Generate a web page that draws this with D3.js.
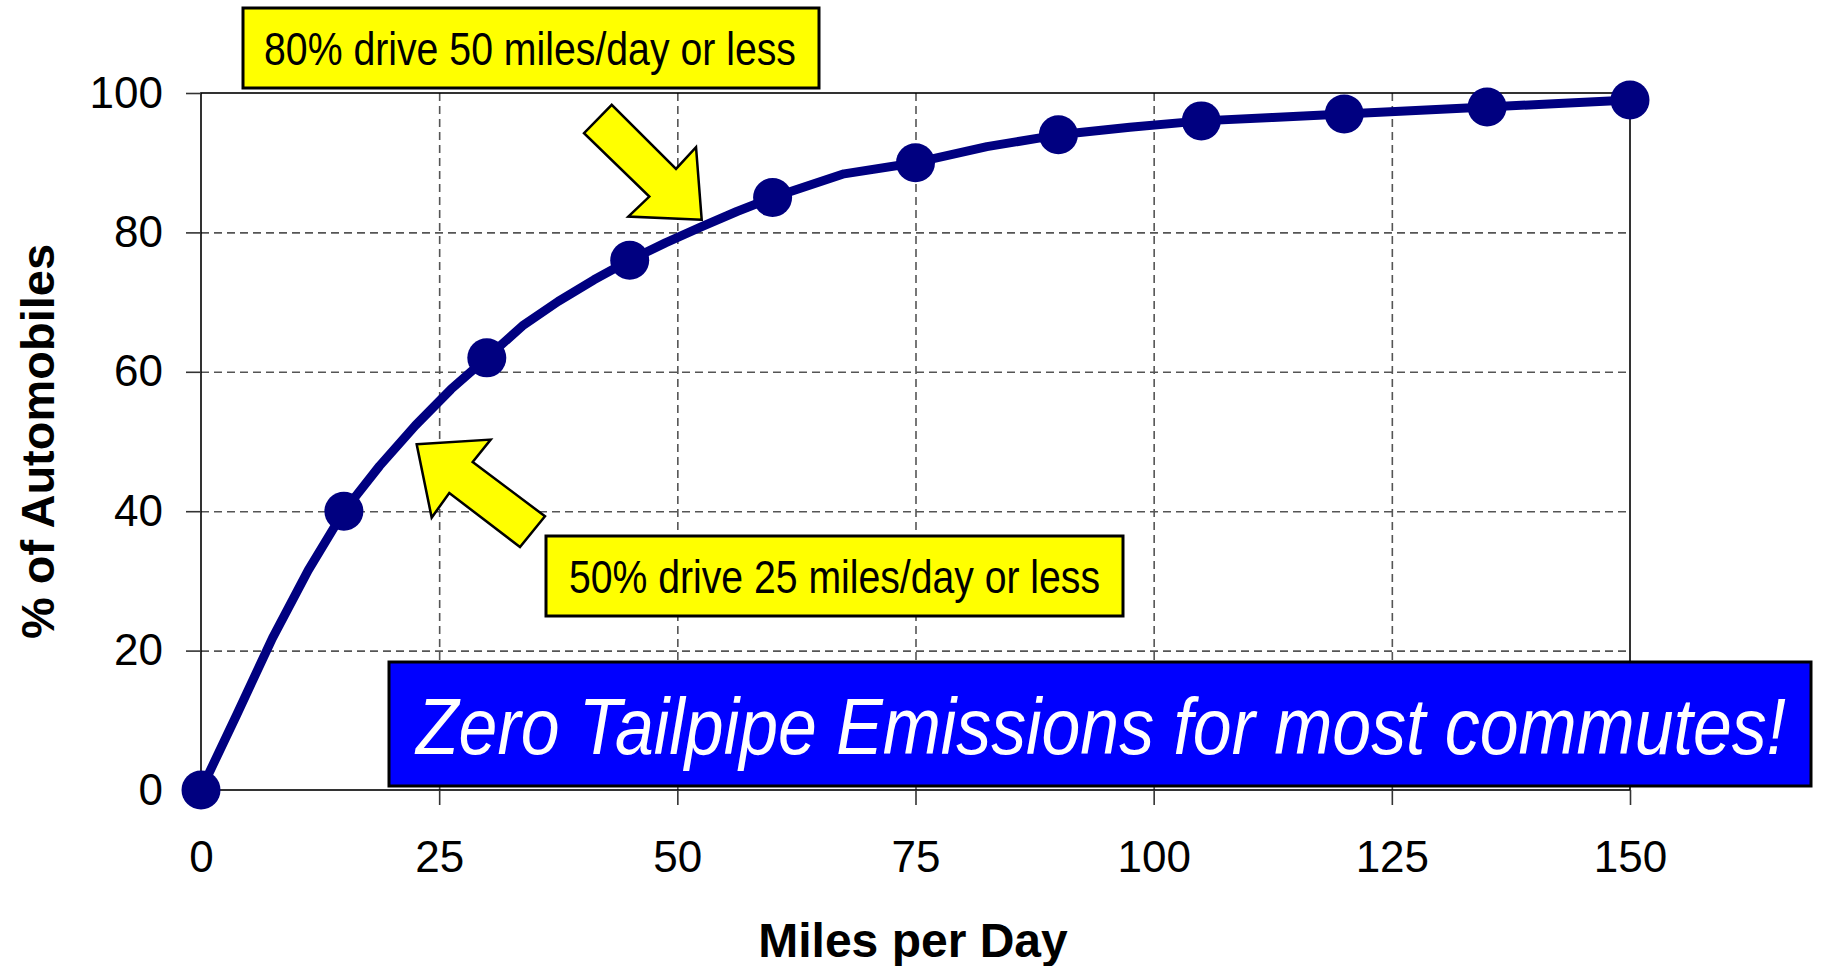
<!DOCTYPE html>
<html>
<head>
<meta charset="utf-8">
<script src="https://cdn.jsdelivr.net/npm/d3@7"></script>
<style>
  html, body { margin: 0; padding: 0; background: #fff; }
  svg { display: block; }
</style>
</head>
<body>
<div id="chart"></div>
<script>
// cumulative share of cars by daily mileage
var markerMiles = [0, 15, 30, 45, 60, 75, 90, 105, 120, 135, 150];
var markerPct = [0, 40, 62, 76, 85, 90, 94, 96, 97, 98, 99];

// the drawn curve has more vertices than the markers
var curveMiles = [0, 3.75, 7.5, 11.25, 15, 18.75, 22.5, 26.25, 30, 33.75, 37.5, 41.25, 45, 48.75, 52.5, 56.25, 60, 67.5, 75, 82.5, 90, 97.5, 105, 112.5, 120, 127.5, 135, 142.5, 150];
var curvePct = [0, 10.8, 21.8, 31.5, 40, 46.5, 52.3, 57.5, 62, 66.6, 70.1, 73.2, 76, 78.5, 80.8, 83, 85, 88.4, 90, 92.3, 94, 95.1, 96, 96.5, 97, 97.5, 98, 98.5, 99];

var xTicks = [0, 25, 50, 75, 100, 125, 150];
var yTicks = [0, 20, 40, 60, 80, 100];

var xTitle = "Miles per Day";
var yTitle = "% of Automobiles";
var note80 = "80% drive 50 miles/day or less";
var note50 = "50% drive 25 miles/day or less";
var banner = "Zero Tailpipe Emissions for most commutes!";

var W = 1822, H = 966;
var margin = { top: 93, right: 192, bottom: 176, left: 201 },
    width = W - margin.left - margin.right,
    height = H - margin.top - margin.bottom;

var navy = "#000080";
var narrow = "'Liberation Sans Narrow', 'Arial Narrow', 'Liberation Sans', Arial, sans-serif";
var sans = "'Liberation Sans', Arial, sans-serif";

var svg = d3.select("#chart").append("svg")
    .attr("width", W)
    .attr("height", H);

var g = svg.append("g")
    .attr("transform", "translate(" + margin.left + "," + margin.top + ")");

var x = d3.scaleLinear().domain([0, 150]).range([0, width]);
var y = d3.scaleLinear().domain([0, 100]).range([height, 0]);

// dashed grid
var xGrid = g.append("g")
    .attr("transform", "translate(0," + height + ")")
    .call(d3.axisBottom(x).tickValues(xTicks.slice(1, -1)).tickSize(-height).tickFormat(""));
var yGrid = g.append("g")
    .call(d3.axisLeft(y).tickValues(yTicks.slice(1, -1)).tickSize(-width).tickFormat(""));
[xGrid, yGrid].forEach(function (sel) {
    sel.select(".domain").remove();
    sel.selectAll("line")
        .attr("stroke", "#555")
        .attr("stroke-width", 1.6)
        .attr("stroke-dasharray", "8,5");
});

// frame round the plot
g.append("rect")
    .attr("width", width)
    .attr("height", height)
    .attr("fill", "none")
    .attr("stroke", "#000")
    .attr("stroke-width", 1.6);

// axes with outward ticks
var xAxis = g.append("g")
    .attr("transform", "translate(0," + height + ")")
    .call(d3.axisBottom(x).tickValues(xTicks).tickSize(15).tickPadding(36));
var yAxis = g.append("g")
    .call(d3.axisLeft(y).tickValues(yTicks).tickSize(15).tickPadding(23));
[xAxis, yAxis].forEach(function (sel) {
    sel.select(".domain").remove();
    sel.selectAll("line").attr("stroke", "#333").attr("stroke-width", 1.6);
    sel.selectAll("text")
        .attr("fill", "#000")
        .style("font-family", sans)
        .style("font-size", "44px");
});

// axis titles
svg.append("text")
    .attr("x", 913)
    .attr("y", 957)
    .attr("text-anchor", "middle")
    .style("font-family", sans)
    .style("font-weight", "bold")
    .style("font-size", "48px")
    .text(xTitle);

svg.append("text")
    .attr("transform", "translate(54," + (margin.top + height / 2) + ") rotate(-90)")
    .attr("text-anchor", "middle")
    .style("font-family", sans)
    .style("font-weight", "bold")
    .style("font-size", "47px")
    .text(yTitle);

// the curve and its markers
var curve = curveMiles.map(function (m, i) { return { m: m, p: curvePct[i] }; });
var markers = markerMiles.map(function (m, i) { return { m: m, p: markerPct[i] }; });

g.append("path")
    .datum(curve)
    .attr("fill", "none")
    .attr("stroke", navy)
    .attr("stroke-width", 9)
    .attr("stroke-linejoin", "round")
    .attr("d", d3.line()
        .x(function (d) { return x(d.m); })
        .y(function (d) { return y(d.p); }));

g.selectAll(".dot")
    .data(markers)
    .enter()
    .append("circle")
    .attr("class", "dot")
    .attr("cx", function (d) { return x(d.m); })
    .attr("cy", function (d) { return y(d.p); })
    .attr("r", 19.5)
    .attr("fill", navy);

// block arrows: tip sits on the curve, outline given relative to the tip
function arrow(tipMiles, tipPct, pts) {
    var tx = x(tipMiles), ty = y(tipPct);
    g.append("polygon")
        .attr("points", pts.map(function (p) { return (tx + p[0]) + "," + (ty + p[1]); }).join(" "))
        .attr("fill", "#ffff00")
        .attr("stroke", "#000")
        .attr("stroke-width", 2.5)
        .attr("stroke-linejoin", "miter");
}
arrow(52.56, 81.8, [[0, 0], [-73.4, -3.3], [-52.4, -23.3], [-117.7, -86.7], [-90, -115], [-25.7, -51], [-5.7, -72.7]]);
arrow(22.64, 49.6, [[0, 0], [74, -4.7], [56, 17.7], [128.3, 72], [103.3, 102.7], [32.6, 48.7], [15, 73.3]]);

// callout boxes
function callout(bx, by, bw, bh, fill, txt, tx, ty, tlen, size, color, italic) {
    svg.append("rect")
        .attr("x", bx).attr("y", by)
        .attr("width", bw).attr("height", bh)
        .attr("fill", fill)
        .attr("stroke", "#000")
        .attr("stroke-width", 3);
    svg.append("text")
        .attr("x", tx).attr("y", ty)
        .attr("textLength", tlen)
        .attr("lengthAdjust", "spacingAndGlyphs")
        .attr("fill", color)
        .style("font-family", narrow)
        .style("font-size", size + "px")
        .style("font-style", italic ? "italic" : "normal")
        .text(txt);
}
callout(243, 8, 576, 80, "#ffff00", note80, 264, 65, 532, 46, "#000", false);
callout(546, 536, 577, 80, "#ffff00", note50, 569, 593, 531, 46, "#000", false);
callout(389, 662, 1422, 124, "#0000ff", banner, 416, 754, 1370, 80, "#fff", true);
</script>
</body>
</html>
